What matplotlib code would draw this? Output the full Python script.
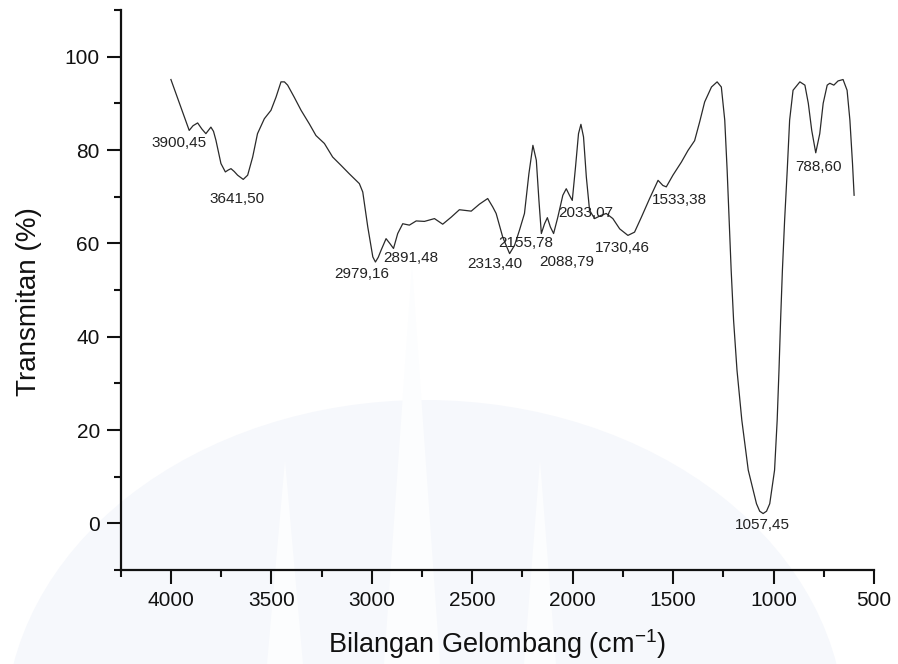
import matplotlib
matplotlib.use("Agg")
import matplotlib.pyplot as plt
from matplotlib.ticker import MultipleLocator
from matplotlib.patches import Ellipse, Polygon

plt.rcParams['font.family'] = ['Liberation Sans', 'DejaVu Sans']
plt.rcParams['mathtext.fontset'] = 'custom'
plt.rcParams['mathtext.rm'] = 'Liberation Sans'
plt.rcParams['mathtext.it'] = 'Liberation Sans'

# FTIR spectrum
wavenumber = [4000, 3960, 3930, 3909, 3890, 3867, 3846, 3826, 3812, 3801, 3788, 3776,
              3751, 3729, 3715, 3701, 3685, 3668, 3640, 3618, 3593, 3569, 3535, 3502,
              3477, 3452, 3435, 3419, 3386, 3352, 3311, 3278, 3236, 3195, 3153, 3112,
              3062, 3045, 3020, 2995, 2982, 2968, 2954, 2929, 2909, 2892, 2871, 2846,
              2813, 2779, 2738, 2688, 2647, 2605, 2564, 2505, 2464, 2423, 2398, 2381,
              2348, 2314, 2289, 2265, 2240, 2218, 2198, 2181, 2168, 2156, 2140, 2126,
              2111, 2095, 2074, 2049, 2032, 2016, 2002, 1986, 1971, 1959, 1946, 1932,
              1916, 1891, 1858, 1833, 1800, 1766, 1725, 1692, 1658, 1617, 1575, 1551,
              1534, 1501, 1459, 1426, 1393, 1368, 1343, 1309, 1281, 1260, 1243, 1231,
              1221, 1211, 1199, 1182, 1158, 1126, 1085, 1069, 1052, 1035, 1019, 995,
              982, 973, 965, 956, 945, 932, 920, 903, 869, 844, 827, 810, 790, 770,
              753, 733, 720, 700, 679, 654, 634, 620, 607, 599]
transmittance = [95.1, 90.3, 86.7, 84.2, 85.2, 85.8, 84.5, 83.5, 84.3, 84.9, 84.0, 82.1,
                 77.1, 75.3, 75.7, 76.0, 75.4, 74.6, 73.7, 74.6, 78.5, 83.5, 86.7, 88.5,
                 91.3, 94.6, 94.6, 93.9, 91.3, 88.5, 85.6, 83.1, 81.4, 78.5, 76.7, 74.9,
                 72.8, 71.0, 63.5, 57.1, 56.0, 57.0, 58.5, 61.0, 59.9, 58.9, 62.1, 64.2,
                 63.9, 64.8, 64.7, 65.3, 64.1, 65.6, 67.2, 66.9, 68.4, 69.6, 67.8, 66.4,
                 61.3, 57.8, 59.6, 62.8, 66.4, 74.9, 81.0, 77.8, 69.2, 62.1, 64.2, 65.5,
                 63.5, 62.1, 65.6, 70.3, 71.7, 70.3, 69.2, 76.3, 83.5, 85.5, 82.8, 74.2,
                 67.1, 65.3, 66.0, 66.4, 65.3, 63.1, 61.7, 62.4, 65.6, 69.6, 73.5, 72.4,
                 72.1, 74.6, 77.4, 79.9, 82.0, 86.0, 90.3, 93.5, 94.6, 93.5, 86.4, 75.6,
                 64.9, 54.2, 43.5, 32.8, 22.1, 11.4, 4.2, 2.6, 2.1, 2.6, 4.2, 11.4,
                 22.1, 32.8, 43.5, 54.2, 64.9, 75.6, 86.4, 92.8, 94.6, 93.9, 90.0, 84.2,
                 79.4, 83.5, 90.0, 93.9, 94.3, 93.9, 94.8, 95.1, 92.8, 86.4, 77.1, 70.3]

peak_labels = ['3900,45', '3641,50', '2979,16', '2891,48', '2313,40', '2155,78',
               '2088,79', '2033,07', '1730,46', '1533,38', '1057,45', '788,60']
label_x = [3959, 3670, 3052, 2808, 2387, 2235, 2030, 1936, 1751, 1470, 1054, 775]
label_y = [81.4, 69.6, 53.4, 56.8, 55.5, 60.0, 56.1, 66.4, 58.9, 69.2, -0.4, 76.3]

x_ticks = [4000, 3500, 3000, 2500, 2000, 1500, 1000, 500]
y_ticks = [0, 20, 40, 60, 80, 100]

fig = plt.figure(figsize=(8.98, 6.64), dpi=100)
fig.patch.set_facecolor('white')

# faint background watermark
fig.add_artist(Ellipse((425 / 898, 1 - 730 / 664), 2 * 420 / 898, 2 * 330 / 664,
                       transform=fig.transFigure, facecolor='#f6f8fc',
                       edgecolor='none', zorder=-2))
for cx, tip, half in [(285, 460, 18), (412, 265, 28), (540, 460, 16)]:
    fig.add_artist(Polygon([((cx - half) / 898, 0), (cx / 898, 1 - tip / 664),
                            ((cx + half) / 898, 0)], closed=True,
                           transform=fig.transFigure, facecolor='#fcfdfe',
                           edgecolor='none', zorder=-1))

ax = fig.add_axes([120.7 / 898, 94 / 664, 753.3 / 898, 560 / 664])
ax.set_facecolor('none')

ax.plot(wavenumber, transmittance, color='#2a2a2a', lw=0.9)

for t, x, y in zip(peak_labels, label_x, label_y):
    ax.text(x, y, t, fontsize=11, color='#222222', ha='center', va='center')

ax.set_xlim(4250, 500)
ax.set_ylim(-10, 110)
ax.set_xticks(x_ticks)
ax.set_yticks(y_ticks)
ax.xaxis.set_minor_locator(MultipleLocator(250))
ax.yaxis.set_minor_locator(MultipleLocator(10))

for s in ['top', 'right']:
    ax.spines[s].set_visible(False)
for s in ['left', 'bottom']:
    ax.spines[s].set_linewidth(1.6)
    ax.spines[s].set_color('#111111')

ax.tick_params(which='major', direction='out', length=10, width=1.5,
               labelsize=15, pad=5, colors='#111111')
ax.tick_params(which='minor', direction='out', length=5, width=1.5, colors='#111111')

ax.set_ylabel('Transmitan (%)', fontsize=20, color='#111111')
ax.yaxis.set_label_coords(-0.105, 0.480)
ax.set_xlabel(r'Bilangan Gelombang (cm$^{\mathrm{-1}}$)', fontsize=19.5,
              color='#111111', va='baseline')
ax.xaxis.set_label_coords(0.5, -0.148)

fig.savefig('out.png', dpi=100)
